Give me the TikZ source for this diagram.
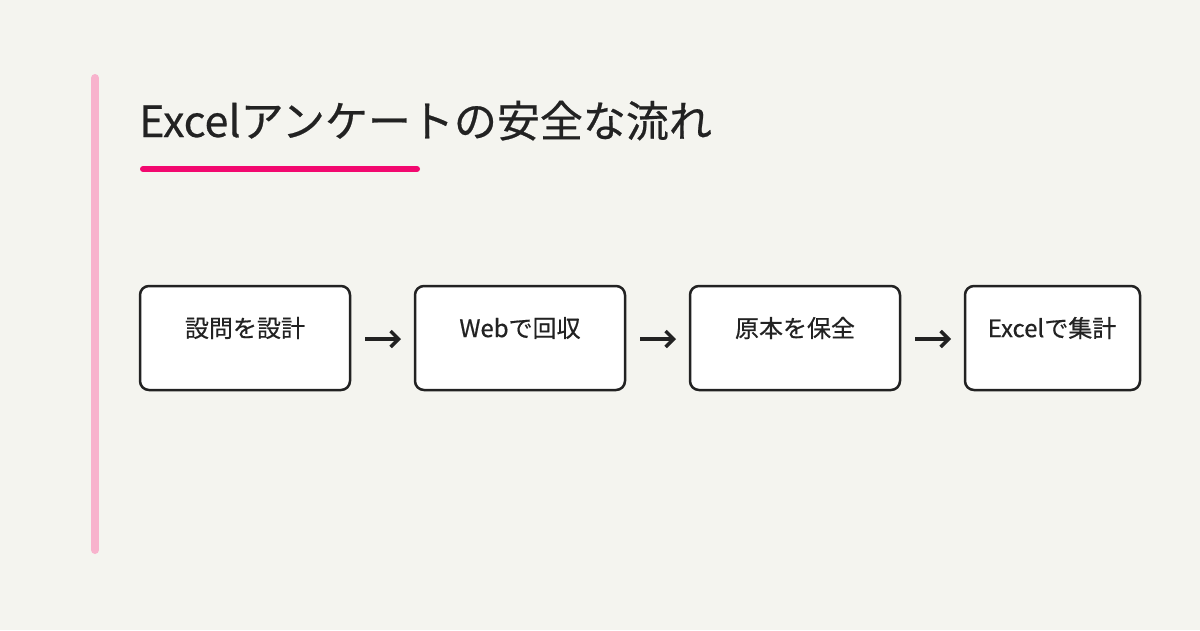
\documentclass[tikz,border=0pt]{standalone}
\usepackage{fontspec}
\setmainfont{Noto Sans CJK JP}[FakeBold=0.5]
\usetikzlibrary{arrows.meta}
\definecolor{bg}{HTML}{F4F4EF}
\definecolor{ink}{HTML}{222222}
\definecolor{pinkbar}{HTML}{F8B3CD}
\definecolor{accent}{HTML}{F2086F}
\begin{document}
\begin{tikzpicture}[x=1pt,y=-1pt,
  box/.style={draw=ink,line width=2.5pt,rounded corners=9pt,fill=white},
  lbl/.style={font=\fontsize{24}{28}\selectfont,text=ink,anchor=center},
  arr/.style={-{Straight Barb[length=8pt,width=16pt,line width=3.5pt]},line width=3.5pt,draw=ink}]
\fill[bg] (0,0) rectangle (1200,630);
\useasboundingbox (0,0) rectangle (1200,630);
\draw[pinkbar,line width=8pt,line cap=round] (95,78) -- (95,550);
\node[anchor=base west,inner sep=0,font=\fontsize{43}{50}\selectfont,text=ink] (title) at (139,137) {Excelアンケートの安全な流れ};
\draw[accent,line width=6pt,line cap=round] (143,169) -- (417,169);
\draw[box] (140,286) rectangle (350,390);
\draw[box] (415,286) rectangle (625,390);
\draw[box] (690,286) rectangle (900,390);
\draw[box] (965,286) rectangle (1140,390);
\node[lbl] (t1) at (245,328) {設問を設計};
\node[lbl] (t2) at (520,328) {Webで回収};
\node[lbl] (t3) at (795,328) {原本を保全};
\node[lbl] (t4) at (1052,328) {Excelで集計};
\coordinate (a1) at (365,339); \coordinate (b1) at (401,339);
\coordinate (a2) at (640,339); \coordinate (b2) at (676,339);
\coordinate (a3) at (915,339); \coordinate (b3) at (951,339);
\draw[arr] (a1) -- (b1);
\draw[arr] (a2) -- (b2);
\draw[arr] (a3) -- (b3);
\end{tikzpicture}
\end{document}
